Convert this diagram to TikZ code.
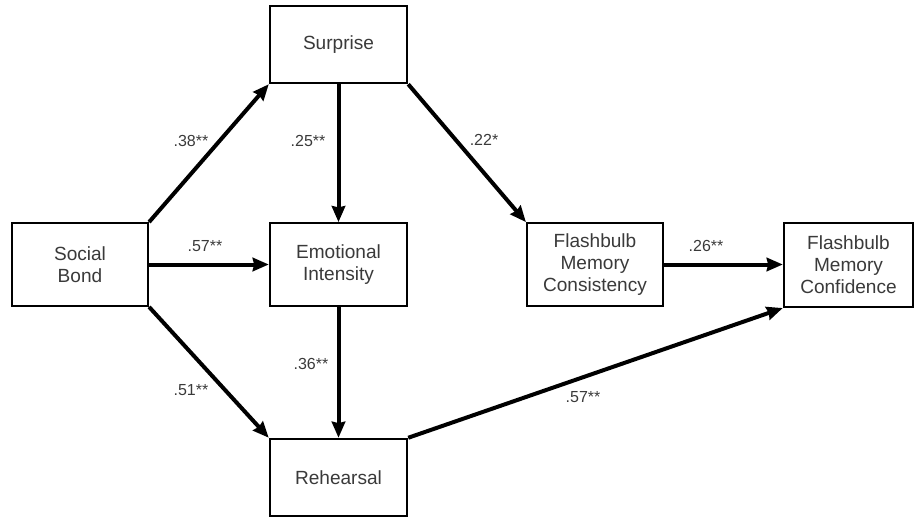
\documentclass[tikz,border=0pt]{standalone}
\usepackage{fontspec}
\setmainfont{Liberation Sans}
\usetikzlibrary{arrows.meta}
\definecolor{txt}{HTML}{3A3A3A}
\begin{document}
\begin{tikzpicture}[x=0.75pt,y=-0.75pt,
  box/.style={draw=black,line width=1.6pt,fill=white,inner sep=0pt,text=txt,
    font=\fontsize{14.3pt}{16.5pt}\selectfont,align=center},
  arr/.style={line width=3pt,-{Stealth[length=12pt,width=10pt,inset=1pt]}},
  lbl/.style={text=txt,font=\fontsize{12pt}{14pt}\selectfont,inner sep=0pt}]
\useasboundingbox (0,0) rectangle (914,517);
\node[box,minimum width=102pt,minimum height=62pt] (sb) at (80,264.5) {Social\\Bond};
\node[box,minimum width=103pt,minimum height=58pt] (sur) at (338.5,44.5) {Surprise};
\node[box,minimum width=103pt,minimum height=62pt] (ei) at (338.5,264.5) {Emotional\\Intensity};
\node[box,minimum width=103pt,minimum height=58pt] (reh) at (338.5,477.5) {Rehearsal};
\node[box,minimum width=102pt,minimum height=62pt] (con) at (595,264.5) {Flashbulb\\Memory\\Consistency};
\node[box,minimum width=97pt,minimum height=63pt] (cf) at (848.5,265) {Flashbulb\\Memory\\Confidence};
\draw[arr] (sb.north east) -- (sur.south west);
\draw[arr] (sb.south east) -- (reh.north west);
\draw[arr] (sb.east) -- (sb.east -| ei.west);
\draw[arr] (sur.south) -- (ei.north);
\draw[arr] (ei.south) -- (reh.north);
\draw[arr] (sur.south east) -- (con.north west);
\draw[arr] (con.east) -- (con.east -| cf.west);
\draw[arr] (reh.north east) -- (cf.south west);
\node[lbl] (l1) at (191,141) {.38**};
\node[lbl] (l2) at (308,141) {.25**};
\node[lbl] (l3) at (484,140) {.22*};
\node[lbl] (l4) at (205,246) {.57**};
\node[lbl] (l5) at (706,246) {.26**};
\node[lbl] (l6) at (311,364) {.36**};
\node[lbl] (l7) at (191,390) {.51**};
\node[lbl] (l8) at (583,397) {.57**};
\end{tikzpicture}
\end{document}
